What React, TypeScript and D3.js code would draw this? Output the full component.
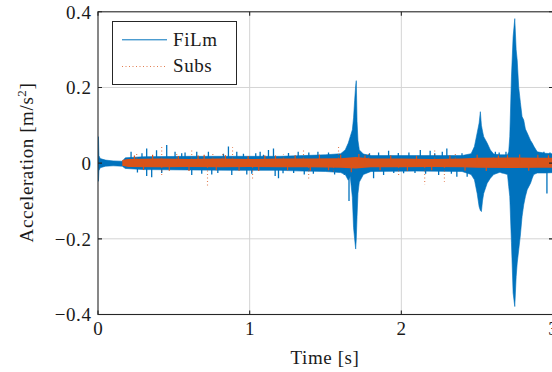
import React, { useEffect, useRef } from 'react'
import * as d3 from 'd3'

// FiLm envelope (upper / lower)
const filmT = [0, 0.003, 0.006, 0.015, 0.05, 0.1, 0.16, 0.18, 0.3, 0.6, 0.9, 1.2, 1.35, 1.5, 1.6, 1.63, 1.65, 1.663, 1.677, 1.685, 1.692, 1.699, 1.703, 1.708, 1.714, 1.723, 1.75, 1.8, 2.1, 2.4, 2.46, 2.482, 2.5, 2.513, 2.521, 2.528, 2.535, 2.543, 2.566, 2.587, 2.609, 2.65, 2.7, 2.708, 2.715, 2.726, 2.737, 2.748, 2.757, 2.764, 2.774, 2.785, 2.796, 2.807, 2.818, 2.83, 2.852, 2.863, 2.873, 2.896, 2.95, 3.0]
const filmHi = [0, 0.07, 0.02, 0.012, 0.008, 0.006, 0.005, 0.014, 0.017, 0.018, 0.018, 0.018, 0.02, 0.022, 0.025, 0.035, 0.053, 0.07, 0.088, 0.12, 0.165, 0.205, 0.218, 0.11, 0.06, 0.035, 0.024, 0.02, 0.02, 0.02, 0.025, 0.044, 0.08, 0.106, 0.136, 0.1, 0.085, 0.07, 0.053, 0.035, 0.024, 0.022, 0.022, 0.03, 0.07, 0.228, 0.334, 0.382, 0.3, 0.272, 0.2, 0.16, 0.123, 0.114, 0.09, 0.08, 0.06, 0.053, 0.045, 0.03, 0.026, 0.025]
const filmLo = [0, -0.048, -0.02, -0.012, -0.008, -0.007, -0.008, -0.014, -0.017, -0.018, -0.019, -0.019, -0.021, -0.022, -0.025, -0.03, -0.045, -0.035, -0.09, -0.17, -0.2, -0.227, -0.2, -0.14, -0.08, -0.05, -0.03, -0.022, -0.021, -0.022, -0.03, -0.044, -0.08, -0.115, -0.125, -0.128, -0.1, -0.08, -0.053, -0.04, -0.03, -0.024, -0.03, -0.062, -0.088, -0.21, -0.343, -0.379, -0.3, -0.264, -0.229, -0.19, -0.141, -0.11, -0.088, -0.07, -0.053, -0.04, -0.03, -0.026, -0.026, -0.025]

// single FiLm spikes sticking out of the band
const filmSpikeT = [0.218, 0.26, 0.29, 0.321, 0.321, 0.354, 0.386, 0.42, 0.453, 0.508, 0.552, 0.574, 0.618, 0.651, 0.684, 0.728, 0.75, 0.79, 0.827, 0.86, 0.882, 0.915, 0.959, 0.981, 1.014, 1.04, 1.069, 1.091, 1.124, 1.157, 1.168, 1.19, 1.22, 1.256, 1.29, 1.32, 1.36, 1.39, 1.42, 1.45, 1.487, 1.52, 1.56, 1.624, 1.655, 1.79, 1.817, 1.85, 1.883, 1.916, 1.95, 1.98, 2.015, 2.05, 2.09, 2.125, 2.16, 2.19, 2.22, 2.246, 2.27, 2.3, 2.33, 2.366, 2.4, 2.434, 2.62, 2.645, 2.665, 2.69, 2.94, 2.96, 2.98]
const filmSpikeV = [0.03, -0.025, 0.026, 0.039, -0.034, -0.037, 0.034, -0.026, 0.048, 0.03, 0.026, 0.028, -0.031, 0.03, -0.028, 0.03, -0.03, -0.026, 0.025, 0.044, -0.031, 0.03, 0.025, -0.03, -0.028, 0.026, 0.03, 0.022, 0.035, 0.039, -0.034, -0.04, -0.027, 0.027, -0.026, 0.03, -0.03, 0.028, -0.028, 0.03, -0.018, 0.028, -0.03, -0.031, -0.1, 0.026, -0.04, 0.028, -0.031, 0.033, -0.026, 0.027, -0.027, 0.028, -0.026, 0.035, -0.028, 0.033, 0.026, -0.031, 0.03, 0.039, -0.028, -0.036, 0.026, -0.036, 0.03, 0.028, -0.027, 0.03, 0.03, -0.08, 0.028]

// Subs band
const subsT = [0.16, 0.2, 0.4, 0.6, 0.8, 1.0, 1.2, 1.4, 1.6, 1.7, 1.8, 2.0, 2.2, 2.4, 2.5, 2.75, 2.9, 3.0]
const subsHi = [0.008, 0.011, 0.012, 0.011, 0.012, 0.011, 0.012, 0.012, 0.013, 0.016, 0.012, 0.012, 0.011, 0.012, 0.014, 0.015, 0.014, 0.014]
const subsLo = [-0.007, -0.01, -0.011, -0.01, -0.011, -0.01, -0.011, -0.011, -0.012, -0.014, -0.011, -0.011, -0.01, -0.011, -0.012, -0.013, -0.012, -0.012]

// short Subs tufts just outside the band
const subsTuftT = [0.24, 0.3, 0.36, 0.47, 0.53, 0.6, 0.66, 0.7, 0.78, 0.84, 0.93, 0.99, 1.06, 1.1, 1.17, 1.25, 1.3, 1.4, 1.46, 1.52, 1.6, 1.67, 1.72, 1.76, 1.86, 1.93, 2.04, 2.1, 2.2, 2.32, 2.42, 2.5, 2.56, 2.64, 2.7, 2.78, 2.84, 2.9, 2.97]
const subsTuftV = [0.02, -0.018, 0.022, -0.02, 0.019, -0.021, 0.02, 0.022, -0.019, 0.021, -0.02, 0.019, -0.021, 0.02, 0.02, -0.019, 0.021, -0.02, 0.022, -0.019, 0.022, -0.024, 0.024, 0.02, -0.019, 0.02, -0.02, 0.019, -0.019, 0.02, -0.02, 0.022, -0.021, 0.02, 0.021, 0.023, -0.02, 0.022, 0.021]

// Subs outliers (dotted line shows them as dots)
const subsDotT = [0.255, 0.42, 0.42, 0.519, 0.618, 0.722, 0.757, 0.823, 0.887, 1.019, 1.223, 1.355, 1.389, 1.553, 1.586, 1.784, 1.982, 2.154, 2.22, 2.284, 2.356, 2.609]
const subsDotV = [0.024, 0.044, -0.037, 0.03, 0.039, -0.062, 0.027, 0.03, 0.042, -0.042, 0.023, 0.037, -0.043, -0.027, 0.048, 0.03, -0.036, -0.057, 0.039, -0.049, 0.026, 0.017]

const xTicks = [0, 1, 2, 3]
const yTicks = [-0.4, -0.2, 0, 0.2, 0.4]

const W = 552
const H = 372
const BLUE = '#0072BD'
const ORANGE = '#D95319'
const FONT = '"Liberation Serif", serif'

function Chart() {
  const ref = useRef(null)

  useEffect(() => {
    const svg = d3.select(ref.current)
    svg.selectAll('*').remove()

    const x = d3.scaleLinear().domain([0, 3]).range([98, 553])
    const y = d3.scaleLinear().domain([-0.4, 0.4]).range([314.5, 11.8])
    const [x0, x1] = x.range()
    const [y0, y1] = y.range()

    svg.append('defs').append('clipPath').attr('id', 'plot')
      .append('rect').attr('x', x0).attr('y', y1).attr('width', x1 - x0).attr('height', y0 - y1)

    // grid
    const grid = svg.append('g').attr('stroke', '#d4d4d4').attr('stroke-width', 1)
    grid.selectAll('.gx').data(xTicks.slice(1, -1)).enter().append('line')
      .attr('x1', d => x(d)).attr('x2', d => x(d)).attr('y1', y1).attr('y2', y0)
    grid.selectAll('.gy').data(yTicks.slice(1, -1)).enter().append('line')
      .attr('x1', x0).attr('x2', x1).attr('y1', d => y(d)).attr('y2', d => y(d))

    const plot = svg.append('g').attr('clip-path', 'url(#plot)')
    const area = d3.area().x(d => x(d.t)).y0(d => y(d.lo)).y1(d => y(d.hi))

    // FiLm
    const film = filmT.map((t, i) => ({ t, hi: filmHi[i], lo: filmLo[i] }))
    plot.append('path').datum(film).attr('d', area)
      .attr('fill', BLUE).attr('stroke', BLUE).attr('stroke-width', 0.6)
    plot.selectAll('.spike').data(filmSpikeT).enter().append('line')
      .attr('x1', d => x(d)).attr('x2', d => x(d))
      .attr('y1', y(0)).attr('y2', (d, i) => y(filmSpikeV[i]))
      .attr('stroke', BLUE).attr('stroke-width', 1.3)

    // Subs
    const subs = subsT.map((t, i) => ({ t, hi: subsHi[i], lo: subsLo[i] }))
    plot.append('path').datum(subs).attr('d', area).attr('fill', ORANGE)
    plot.selectAll('.tuft').data(subsTuftT).enter().append('line')
      .attr('x1', d => x(d)).attr('x2', d => x(d))
      .attr('y1', y(0)).attr('y2', (d, i) => y(subsTuftV[i]))
      .attr('stroke', ORANGE).attr('stroke-width', 1.2)
    plot.selectAll('.dot').data(subsDotT).enter().append('line')
      .attr('x1', d => x(d)).attr('x2', d => x(d))
      .attr('y1', (d, i) => y(subsDotV[i] > 0 ? 0.012 : -0.01))
      .attr('y2', (d, i) => y(subsDotV[i]))
      .attr('stroke', ORANGE).attr('stroke-width', 1.1)
      .attr('stroke-dasharray', '1 2.5').attr('opacity', 0.75)

    // axes box + inward ticks
    const ax = svg.append('g').attr('stroke', '#262626').attr('stroke-width', 1.1).attr('fill', 'none')
    ax.append('rect').attr('x', x0).attr('y', y1).attr('width', x1 - x0).attr('height', y0 - y1)
    ax.selectAll('.tx').data(xTicks).enter().append('path')
      .attr('d', d => `M${x(d)},${y0}v-4M${x(d)},${y1}v4`)
    ax.selectAll('.ty').data(yTicks).enter().append('path')
      .attr('d', d => `M${x0},${y(d)}h4M${x1},${y(d)}h-4`)

    const fmt = d => (d === 0 ? '0' : d3.format('.1f')(d))
    const txt = svg.append('g').attr('font-family', FONT).attr('font-size', 19).attr('fill', '#1a1a1a')
    txt.selectAll('.lx').data(xTicks).enter().append('text')
      .attr('x', d => x(d)).attr('y', 335).attr('text-anchor', 'middle').text(d => d)
    txt.selectAll('.ly').data(yTicks).enter().append('text')
      .attr('x', 91.5).attr('y', d => y(d)).attr('dy', '0.36em')
      .attr('text-anchor', 'end').attr('letter-spacing', 0.6).text(fmt)

    txt.append('text').attr('x', 325).attr('y', 364).attr('text-anchor', 'middle')
      .attr('letter-spacing', 0.6).text('Time [s]')

    const yl = txt.append('text').attr('transform', 'translate(33,162.5) rotate(-90)')
      .attr('text-anchor', 'middle').attr('letter-spacing', 0.6)
    yl.append('tspan').text('Acceleration [m/s')
    yl.append('tspan').attr('dy', -7).attr('font-size', 13).text('2')
    yl.append('tspan').attr('dy', 7).text(']')

    // legend
    const lg = svg.append('g')
    lg.append('rect').attr('x', 112.5).attr('y', 21.5).attr('width', 124).attr('height', 63)
      .attr('fill', 'white').attr('stroke', '#262626').attr('stroke-width', 1)
    lg.append('line').attr('x1', 122).attr('x2', 167).attr('y1', 39.8).attr('y2', 39.8)
      .attr('stroke', BLUE).attr('stroke-width', 1)
    lg.append('line').attr('x1', 122).attr('x2', 167).attr('y1', 66.5).attr('y2', 66.5)
      .attr('stroke', ORANGE).attr('stroke-width', 1).attr('stroke-dasharray', '1 2.5').attr('opacity', 0.75)
    lg.append('text').attr('x', 173).attr('y', 45.5).attr('font-family', FONT).attr('font-size', 19)
      .attr('letter-spacing', 0.6).attr('fill', '#1a1a1a').text('FiLm')
    lg.append('text').attr('x', 173).attr('y', 72).attr('font-family', FONT).attr('font-size', 19)
      .attr('letter-spacing', 0.6).attr('fill', '#1a1a1a').text('Subs')
  }, [])

  return <svg ref={ref} width={W} height={H} style={{ display: 'block' }}></svg>
}

export default function App() {
  return (
    <div style={{ position: 'absolute', left: 0, top: 0, width: W, height: H, background: 'white' }}>
      <Chart />
    </div>
  )
}
